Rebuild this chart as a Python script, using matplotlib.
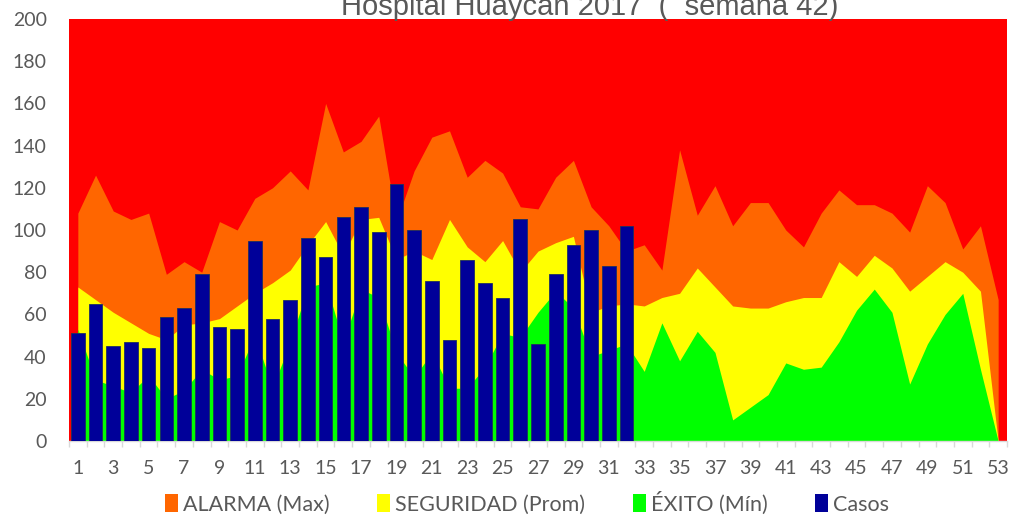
import matplotlib
matplotlib.use("Agg")
import matplotlib.pyplot as plt
import numpy as np
from matplotlib.patches import Patch

# semanas epidemiologicas 1..53
semanas = list(range(1, 54))

alarma = [108, 126, 109, 105, 108, 79, 85, 80, 104, 100,
          115, 120, 128, 119, 160, 137, 142, 154, 104, 128,
          144, 147, 125, 133, 127, 111, 110, 125, 133, 111,
          102, 90, 93, 81, 138, 107, 121, 102, 113, 113,
          100, 92, 108, 119, 112, 112, 108, 99, 121, 113,
          91, 102, 67]

seguridad = [73, 67, 61, 56, 51, 48, 55, 56, 58, 64,
             70, 75, 81, 93, 104, 88, 105, 106, 86, 90,
             86, 105, 92, 85, 95, 80, 90, 94, 97, 61,
             64, 65, 64, 68, 70, 82, 73, 64, 63, 63,
             66, 68, 68, 85, 78, 88, 82, 71, 78, 85,
             80, 71, 0]

exito = [53, 29, 26, 23, 31, 20, 24, 34, 29, 31,
         50, 25, 47, 73, 75, 47, 72, 68, 42, 30,
         42, 25, 25, 35, 51, 49, 61, 71, 63, 40,
         43, 46, 33, 56, 38, 52, 42, 10, 16, 22,
         37, 34, 35, 47, 62, 72, 61, 27, 46, 60,
         70, 34, 0]

# casos reportados hasta la semana 32
casos = [51, 65, 45, 47, 44, 59, 63, 79, 54, 53,
         95, 58, 67, 96, 87, 106, 111, 99, 122, 100,
         76, 48, 86, 75, 68, 105, 46, 79, 93, 100,
         83, 102]

titulo = "Hospital Huaycan 2017  (  semana 42)"
nombres_leyenda = ["ALARMA (Max)", "SEGURIDAD (Prom)", "ÉXITO (Mín)", "Casos"]
y_ticks = list(range(0, 201, 20))

COLOR_ROJO = "#ff0000"
COLOR_NARANJA = "#ff6600"
COLOR_AMARILLO = "#ffff00"
COLOR_VERDE = "#00ff00"
COLOR_AZUL = "#000099"
COLOR_TEXTO = "#595959"
COLOR_EJE = "#d9d9d9"

FUENTE = "Lato"


def canal_endemico():
    fig = plt.figure(figsize=(10.24, 5.17), dpi=100)
    ax = fig.add_axes([69 / 1024, 1 - 441 / 517, (1007 - 69) / 1024, (441 - 19) / 517])
    ax.set_facecolor(COLOR_ROJO)

    ax.fill_between(semanas, 0, alarma, color=COLOR_NARANJA, lw=0)
    ax.fill_between(semanas, 0, seguridad, color=COLOR_AMARILLO, lw=0)
    ax.fill_between(semanas, 0, exito, color=COLOR_VERDE, lw=0)
    ax.bar(semanas[:len(casos)], casos, width=0.77, color=COLOR_AZUL,
           edgecolor="#1f2f5f", linewidth=0.6, zorder=3)

    ax.set_xlim(0.5, 53.5)
    ax.set_ylim(0, 200)

    ax.set_xticks(semanas[::2])
    ax.set_xticklabels([str(s) for s in semanas[::2]])
    ax.set_xticks(np.arange(0.5, 54, 1), minor=True)
    ax.tick_params(axis="x", which="major", length=0, pad=14,
                   labelsize=14, labelcolor=COLOR_TEXTO)
    ax.tick_params(axis="x", which="minor", length=4, width=1, color=COLOR_EJE)

    ax.set_yticks(y_ticks)
    ax.tick_params(axis="y", length=0, pad=16, labelsize=14, labelcolor=COLOR_TEXTO)

    for lbl in ax.get_xticklabels() + ax.get_yticklabels():
        lbl.set_fontfamily(FUENTE)

    for side in ["left", "top", "right"]:
        ax.spines[side].set_visible(False)
    ax.spines["bottom"].set_color(COLOR_EJE)
    ax.spines["bottom"].set_linewidth(1)

    handles = [Patch(facecolor=c, edgecolor="none") for c in
               [COLOR_NARANJA, COLOR_AMARILLO, COLOR_VERDE, COLOR_AZUL]]
    leg = fig.legend(handles, nombres_leyenda, loc="center", ncol=4,
                     bbox_to_anchor=(527 / 1024, 1 - 503 / 517), frameon=False,
                     handlelength=0.6, handleheight=0.9, handletextpad=0.25,
                     columnspacing=2.2, prop={"family": FUENTE, "size": 15.5})
    for t in leg.get_texts():
        t.set_color(COLOR_TEXTO)

    # el titulo queda cortado arriba, igual que en el original
    fig.text(590 / 1024, 1 - 15 / 517, titulo, ha="center", va="baseline",
             fontsize=21, color=COLOR_TEXTO, family="Liberation Sans")

    fig.savefig("out.png", dpi=100)


if __name__ == '__main__':
    canal_endemico()
